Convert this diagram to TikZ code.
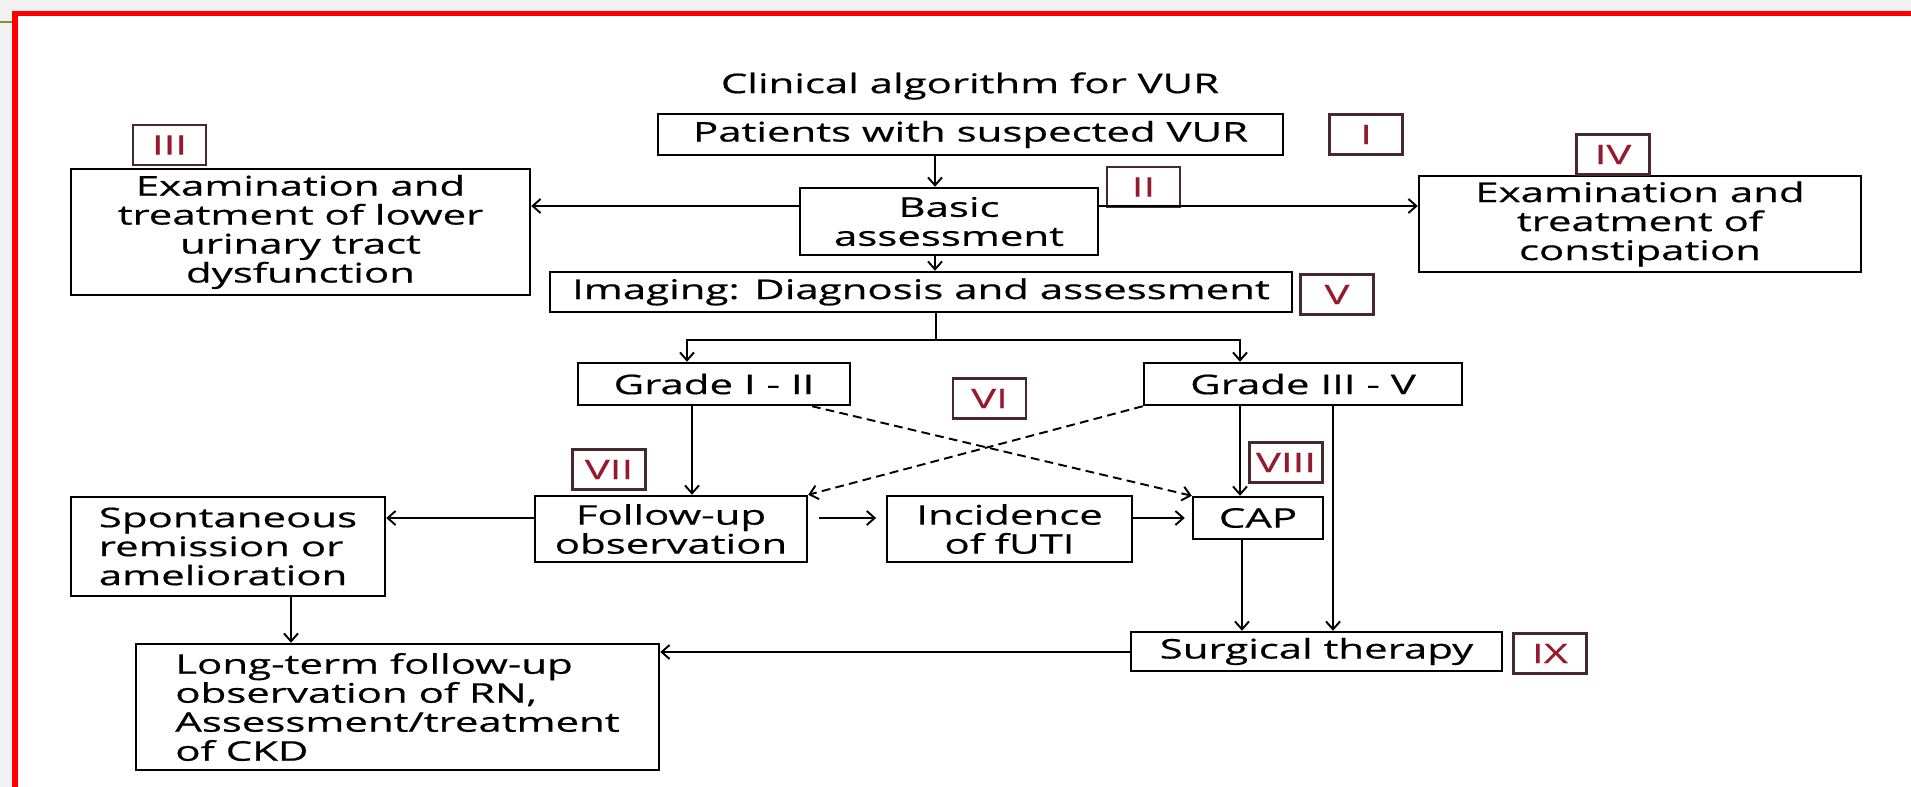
\documentclass[tikz,border=0pt]{standalone}
\usepackage{fontspec}
\setmainfont{Open Sans}[FakeStretch=1.55, FakeBold=0.6]
\usetikzlibrary{arrows.meta}
\definecolor{okvirrdec}{RGB}{255,0,0}
\definecolor{ozadje}{RGB}{241,241,241}
\definecolor{zelena}{RGB}{122,150,45}
\definecolor{stevilka}{RGB}{150,25,45}
\definecolor{robstev}{RGB}{70,40,45}
\tikzset{
 korak/.style={draw, line width=1.4pt, inner sep=0pt, align=center},
 oznaka/.style={draw=robstev, line width=1.2pt, inner sep=0pt, text=stevilka, minimum width=73*0.02cm, minimum height=40*0.02cm},
 puscica/.style={line width=1.1pt, -{Straight Barb[length=4.5pt,width=8pt]}},
 crtkano/.style={puscica, dash pattern=on 5pt off 3pt}
}
\newcommand{\korak}[6]{% ime, x, y, sirina, visina, besedilo
\node[korak, minimum width=#4*0.02cm, minimum height=#5*0.02cm] (#1) at (#2,#3) {#6};
}
\newcommand{\stev}[4]{% ime, x, y, rimska stevilka
\node[oznaka] (#1) at (#2,#3) {#4};
}
\begin{document}
\begin{tikzpicture}[x=0.02cm, y=-0.02cm, font=\fontsize{15.4}{16.5}\selectfont]
			\useasboundingbox (0,0) rectangle (1911,787);
			\fill[ozadje] (0,0) rectangle (1911,787);
			\fill[white] (15,13.5) rectangle (1911,787);
			\draw[zelena, line width=1.6pt] (0,22) -- (15,22);
			\draw[okvirrdec, line width=2.9pt] (15,787) -- (15,13.5) -- (1911,13.5);

			\node (naslov) at (970,86) {Clinical algorithm for VUR};

			\korak{patients}{970.5}{134.5}{625}{41}{Patients with suspected VUR}
			\korak{basic}{949}{221.5}{298}{67}{Basic\\assessment}
			\korak{lutd}{300.5}{232}{459}{126}{Examination and\\treatment of lower\\urinary tract\\dysfunction}
			\korak{const}{1640}{224}{442}{96}{Examination and\\treatment of\\constipation}
			\korak{imaging}{921}{292}{742}{40}{Imaging: Diagnosis and assessment}
			\korak{g12}{714}{384}{272}{42}{Grade I - II}
			\korak{g35}{1303}{384}{318}{42}{Grade III - V}
			\korak{follow}{671}{529}{272}{66}{Follow-up\\observation}
			\korak{incid}{1009.5}{529}{245}{66}{Incidence\\of fUTI}
			\korak{cap}{1258}{518}{130}{42}{CAP}
			\korak{surg}{1316.5}{651.5}{371}{39}{Surgical therapy}
			\node[korak, align=left, minimum width=314*0.02cm, minimum height=99*0.02cm] (spont) at (228,546.5) {Spontaneous\\remission or\\amelioration};
			\node[korak, align=left, minimum width=523*0.02cm, minimum height=126*0.02cm] (longterm) at (397.5,707) {Long-term follow-up\\observation of RN,\\Assessment/treatment\\of CKD};

%			rimske oznake
			\stev{tI}{1366}{134.5}{I}
			\stev{tII}{1143.5}{187}{II}
			\stev{tIII}{169.5}{145}{III}
			\stev{tIV}{1613}{154.5}{IV}
			\stev{tV}{1337}{294.5}{V}
			\stev{tVI}{989.5}{398.5}{VI}
			\stev{tVII}{609}{469.5}{VII}
			\stev{tVIII}{1286}{462.5}{VIII}
			\stev{tIX}{1550}{653.5}{IX}

			\draw[puscica] (935,0 |- patients.south) -- (935,0 |- basic.north);
			\draw[puscica] (basic.west |- 0,206) -- (lutd.east |- 0,206);
			\draw[puscica] (basic.east |- 0,206) -- (const.west |- 0,206);
			\draw[puscica] (935,0 |- basic.south) -- (935,0 |- imaging.north);

			\coordinate (razcep) at (936,340);
			\coordinate (levo) at (687,340);
			\coordinate (desno) at (1240,340);
			\draw[line width=1.1pt] (razcep |- imaging.south) -- (razcep);
			\draw[puscica] (razcep) -- (levo) -- (levo |- g12.north);
			\draw[puscica] (razcep) -- (desno) -- (desno |- g35.north);

			\draw[puscica] (692,0 |- g12.south) -- (692,0 |- follow.north);
			\draw[crtkano] (812,0 |- g12.south) -- (cap.north west);
			\draw[crtkano] (g35.south west) -- (follow.north east);
			\draw[puscica] (1240,0 |- g35.south) -- (1240,0 |- cap.north);
			\draw[puscica] (1333,0 |- g35.south) -- (1333,0 |- surg.north);

			\draw[puscica] (follow.west |- 0,518) -- (spont.east |- 0,518);
			\draw[puscica, shorten <=6pt, shorten >=5.5pt] (follow.east |- 0,518) -- (incid.west |- 0,518);
			\draw[puscica, shorten >=4pt] (incid.east |- cap.west) -- (cap.west);
			\draw[puscica] (1242,0 |- cap.south) -- (1242,0 |- surg.north);
			\draw[puscica] (291,0 |- spont.south) -- (291,0 |- longterm.north);
			\draw[puscica] (surg.west |- 0,652) -- (longterm.east |- 0,652);
\end{tikzpicture}
\end{document}
